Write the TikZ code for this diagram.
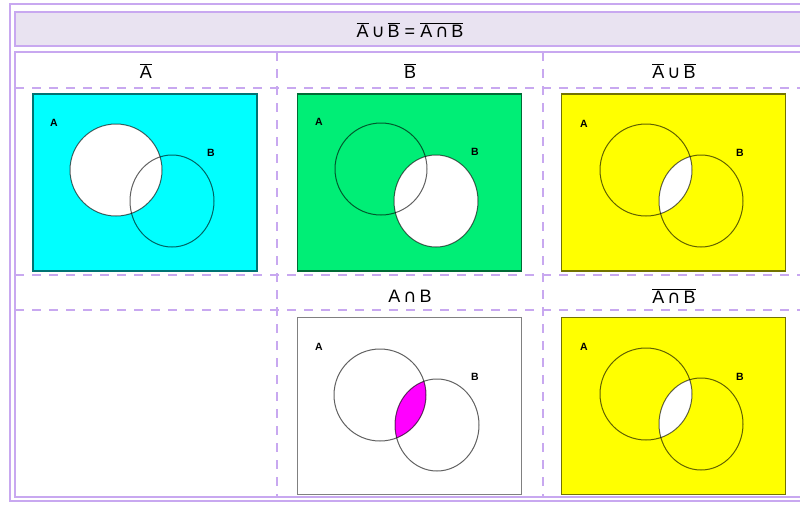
\documentclass[tikz,border=0pt]{standalone}
\usepackage{fontspec}
\setmainfont{Liberation Sans}
\newfontfamily\symfont{DejaVu Sans}
\usetikzlibrary{positioning}

\definecolor{lavline}{HTML}{C8A8F0}
\definecolor{lavfill}{HTML}{E9E3F1}
\definecolor{vcyan}{HTML}{00FFFF}
\definecolor{vgreen}{HTML}{00EE76}
\definecolor{vyellow}{HTML}{FFFF00}
\definecolor{vmagenta}{HTML}{FF00FF}

\newcommand{\ovl}[1]{$\overline{\mbox{#1}}$}
\newcommand{\capsym}{{\symfont ∩}}
\newcommand{\cupsym}{{\symfont ∪}}

\begin{document}
\begin{tikzpicture}[x=1pt, y=-1pt, every node/.style={align=center, font=\fontsize{18}{20}\selectfont},
  panel/.style={draw, rectangle, line width=1.2pt, minimum width=224pt, minimum height=177pt, inner sep=0pt},
  setlabel/.style={font=\bfseries\fontsize{10.5}{12}\selectfont},
  ring/.style={draw=black, draw opacity=0.62, line width=1pt},
  frame/.style={draw=lavline, line width=2.2pt},
  gridline/.style={draw=lavline, line width=1.8pt, dash pattern=on 9pt off 8pt}]

\useasboundingbox (0,0) rectangle (800,504);

% Table frame
\draw[frame] (10,4) rectangle (812,501);
\draw[frame, fill=lavfill] (15,12) rectangle (807,46);
\draw[frame] (15,52) rectangle (807,497);

% Cell borders (dashed)
\draw[gridline] (277,52) -- (277,497);
\draw[gridline] (543,52) -- (543,497);
\draw[gridline] (15,88) -- (807,88);
\draw[gridline] (15,275) -- (807,275);
\draw[gridline] (15,310) -- (807,310);

% Headings
\node (title) at (410,30) {\ovl{A}\,\cupsym\,\ovl{B} = \ovl{A\,\capsym\,B}};
\node (headA) at (146,71) {\ovl{A}};
\node (headB) at (410,71) {\ovl{B}};
\node (headAuB) at (674,71) {\ovl{A}\,\cupsym\,\ovl{B}};
\node (headAnB) at (410,296) {A\,\capsym\,B};
\node (headnot) at (674,296) {\ovl{A\,\capsym\,B}};

% Panels
\node (notA) [panel, fill=vcyan, draw=vcyan!45!black] at (145,182.5) {};
\node (notB) [panel, fill=vgreen, draw=vgreen!45!black] at (409.5,182.5) {};
\node (union) [panel, fill=vyellow, draw=vyellow!45!black] at (673.5,182.5) {};
\node (inter) [panel, fill=white, draw=black!50] at (409.5,406) {};
\node (notinter) [panel, fill=vyellow, draw=vyellow!45!black] at (673.5,406) {};

% Circle centres
\coordinate (a1) at (116,170);  \coordinate (b1) at (172,201);
\coordinate (a2) at (381,169);  \coordinate (b2) at (436,201);
\coordinate (a3) at (646,170);  \coordinate (b3) at (701,201);
\coordinate (a5) at (380,395);  \coordinate (b5) at (437,425);
\coordinate (a6) at (646,394);  \coordinate (b6) at (701,424);

% Shaded regions
\fill[white] (a1) circle (46);
\fill[white] (b2) ellipse (42 and 46);
\begin{scope}
  \clip (a3) circle (46);
  \fill[white] (b3) ellipse (42 and 46);
\end{scope}
\begin{scope}
  \clip (a5) circle (46);
  \fill[vmagenta] (b5) ellipse (42 and 46);
\end{scope}
\begin{scope}
  \clip (a6) circle (46);
  \fill[white] (b6) ellipse (42 and 46);
\end{scope}

% Outlines
\draw[ring] (a1) circle (46);  \draw[ring] (b1) ellipse (42 and 46);
\draw[ring] (a2) circle (46);  \draw[ring] (b2) ellipse (42 and 46);
\draw[ring] (a3) circle (46);  \draw[ring] (b3) ellipse (42 and 46);
\draw[ring] (a5) circle (46);  \draw[ring] (b5) ellipse (42 and 46);
\draw[ring] (a6) circle (46);  \draw[ring] (b6) ellipse (42 and 46);

% Set labels
\node (la1) [setlabel] at (54,123) {A};   \node (lb1) [setlabel] at (211,153) {B};
\node (la2) [setlabel] at (319,122) {A};  \node (lb2) [setlabel] at (475,152) {B};
\node (la3) [setlabel] at (584,124) {A};  \node (lb3) [setlabel] at (740,153) {B};
\node (la5) [setlabel] at (319,347) {A};  \node (lb5) [setlabel] at (475,377) {B};
\node (la6) [setlabel] at (584,347) {A};  \node (lb6) [setlabel] at (740,377) {B};

\end{tikzpicture}
\end{document}
